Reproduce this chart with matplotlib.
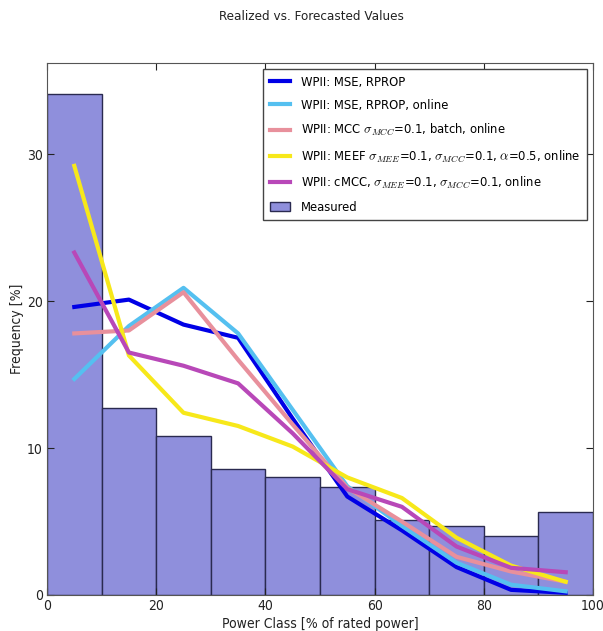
import matplotlib
matplotlib.use("Agg")
import matplotlib.pyplot as plt
import numpy as np

plt.rcParams['mathtext.fontset'] = 'cm'
plt.rcParams['font.family'] = ['DejaVu Sans']
plt.rcParams['font.stretch'] = 'condensed'

bin_edges = [0, 10, 20, 30, 40, 50, 60, 70, 80, 90, 100]
measured = [34.1, 12.7, 10.8, 8.6, 8.0, 7.35, 5.1, 4.7, 4.0, 5.65]
centers = [5, 15, 25, 35, 45, 55, 65, 75, 85, 95]

mse_rprop = [19.6, 20.1, 18.4, 17.5, 12.0, 6.7, 4.4, 1.9, 0.35, 0.15]
mse_rprop_online = [14.7, 18.3, 20.9, 17.8, 12.6, 7.4, 4.7, 2.2, 0.7, 0.25]
mcc_batch_online = [17.8, 18.0, 20.6, 16.0, 11.6, 7.3, 5.0, 2.6, 1.6, 0.9]
meef_online = [29.2, 16.3, 12.4, 11.5, 10.1, 8.0, 6.6, 3.9, 2.0, 0.9]
cmcc_online = [23.3, 16.5, 15.6, 14.4, 11.0, 7.2, 6.0, 3.3, 1.85, 1.55]

labels = [
    'WPII: MSE, RPROP',
    'WPII: MSE, RPROP, online',
    r'WPII: MCC $\sigma_{MCC}$=0.1, batch, online',
    r'WPII: MEEF $\sigma_{MEE}$=0.1, $\sigma_{MCC}$=0.1, $\alpha$=0.5, online',
    r'WPII: cMCC, $\sigma_{MEE}$=0.1, $\sigma_{MCC}$=0.1, online',
]
series = [mse_rprop, mse_rprop_online, mcc_batch_online, meef_online, cmcc_online]
colors = ['#0000e6', '#55c0f0', '#e8909c', '#f7e81a', '#b848b8']

fig = plt.figure(figsize=(6.03, 6.31), dpi=100)
ax = fig.add_axes([47/603, 1 - 595/631, 546/603, 532/631])

widths = np.diff(bin_edges)
ax.bar(bin_edges[:-1], measured, width=widths, align='edge', color='#8f8fdc',
       edgecolor='#2a2a50', linewidth=1.0, label='Measured', zorder=1)
for s, c, l in zip(series, colors, labels):
    ax.plot(centers, s, color=c, linewidth=3, label=l, zorder=2)

ax.set_xlim(0, 100)
ax.set_ylim(0, 36.2)
ax.set_xticks([0, 20, 40, 60, 80, 100])
ax.set_yticks([0, 10, 20, 30])
ax.tick_params(direction='in', top=True, right=True, labelsize=10, length=5,
               colors='#222222', pad=3)
for sp in ax.spines.values():
    sp.set_color('#555555')
ax.set_xlabel('Power Class [% of rated power]', fontsize=10, color='#222222', labelpad=3)
ax.set_ylabel('Frequency [%]', fontsize=10, color='#222222', labelpad=2)
fig.text(0.516, 1 - 16/631, 'Realized vs. Forecasted Values', ha='center', va='center',
         fontsize=9.6, color='#222222')

leg = ax.legend(loc='upper right', fontsize=9.3, framealpha=1, fancybox=False,
                edgecolor='#444444', borderaxespad=0.5, handlelength=1.6,
                labelspacing=0.78, borderpad=0.5)
leg.get_frame().set_linewidth(1.0)

fig.savefig('out.png', dpi=100)
